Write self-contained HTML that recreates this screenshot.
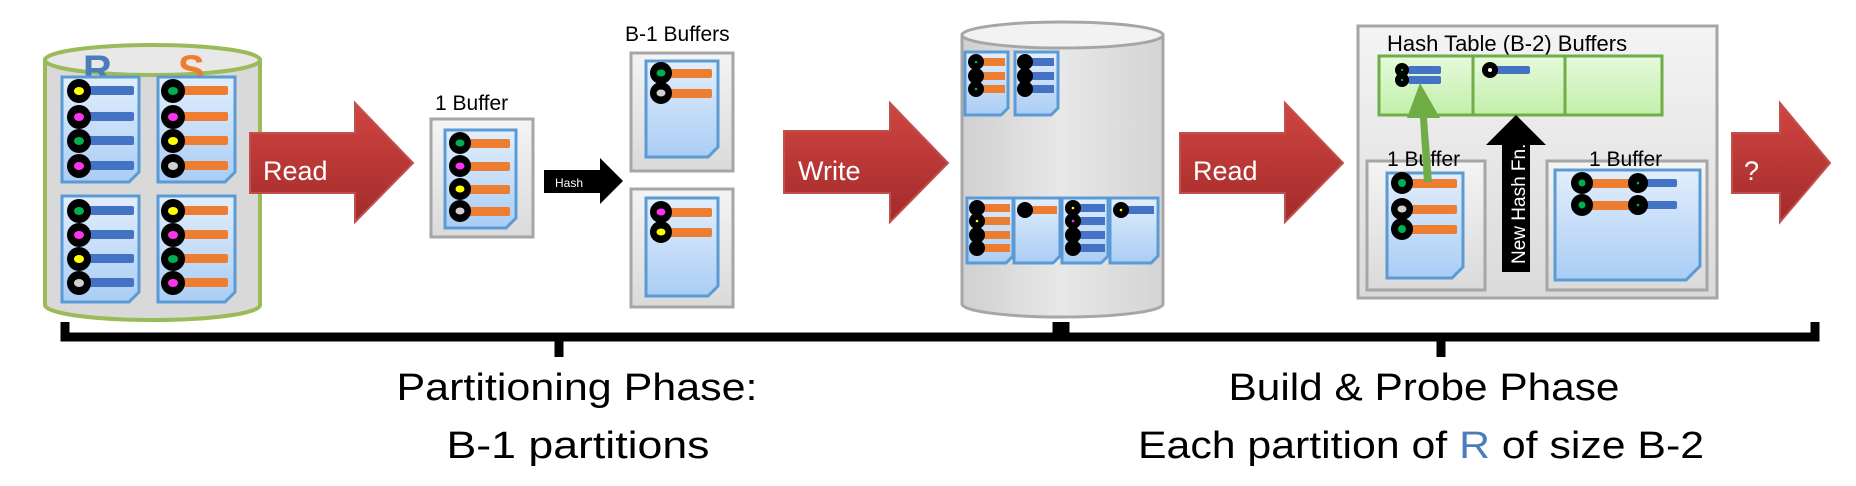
<!DOCTYPE html>
<html><head><meta charset="utf-8"><style>
html,body{margin:0;padding:0;background:#fff;width:1856px;height:486px;overflow:hidden}
svg{display:block}
text{font-family:"Liberation Sans",sans-serif}
</style></head><body>
<svg width="1856" height="486" viewBox="0 0 1856 486" xmlns="http://www.w3.org/2000/svg">
<defs>
<linearGradient id="doc" x1="0" y1="0" x2="0" y2="1"><stop offset="0" stop-color="#e2eefc"/><stop offset="1" stop-color="#aacdf5"/></linearGradient>
<linearGradient id="red" x1="0" y1="0" x2="0" y2="1"><stop offset="0" stop-color="#d04541"/><stop offset="1" stop-color="#a22b2b"/></linearGradient>
<linearGradient id="box" x1="0" y1="0" x2="0" y2="1"><stop offset="0" stop-color="#f4f4f4"/><stop offset="1" stop-color="#dadada"/></linearGradient>
<linearGradient id="grn" x1="0" y1="0" x2="0" y2="1"><stop offset="0" stop-color="#e6fadc"/><stop offset="1" stop-color="#c2efaa"/></linearGradient>
<linearGradient id="cyl" x1="0" y1="0" x2="1" y2="0"><stop offset="0" stop-color="#d0d0d0"/><stop offset=".5" stop-color="#e8e8e8"/><stop offset="1" stop-color="#d4d4d4"/></linearGradient>
</defs>

<!-- Left cylinder -->
<path d="M45,60 V305 A107.5,15 0 0 0 260,305 V60 Z" fill="#d9d9d9" stroke="#9bbb59" stroke-width="4"/>
<ellipse cx="152.5" cy="60" rx="107.5" ry="15" fill="#e8e8e8" stroke="#9bbb59" stroke-width="4"/>
<text x="83" y="83" font-size="40" font-weight="bold" fill="#4a7ebb">R</text>
<text x="178" y="83" font-size="40" font-weight="bold" fill="#ed7d31">S</text>

<g stroke="#5b9bd5" stroke-width="3" fill="url(#doc)">
<path d="M62,77 h77 v95 l-10,10 h-67 z"/>
<path d="M158,77 h77 v95 l-10,10 h-67 z"/>
<path d="M62,196 h77 v96 l-10,10 h-67 z"/>
<path d="M158,196 h77 v96 l-10,10 h-67 z"/>
</g>
<g>
<g fill="#4472c4"><rect x="85" y="86" width="49" height="9" rx="2"/><rect x="85" y="112" width="49" height="9" rx="2"/><rect x="85" y="136" width="49" height="9" rx="2"/><rect x="85" y="161" width="49" height="9" rx="2"/>
<rect x="85" y="206" width="49" height="9" rx="2"/><rect x="85" y="230" width="49" height="9" rx="2"/><rect x="85" y="254" width="49" height="9" rx="2"/><rect x="85" y="278" width="49" height="9" rx="2"/></g>
<g fill="#ed7d31"><rect x="180" y="86" width="48" height="9" rx="2"/><rect x="180" y="112" width="48" height="9" rx="2"/><rect x="180" y="136" width="48" height="9" rx="2"/><rect x="180" y="161" width="48" height="9" rx="2"/>
<rect x="180" y="206" width="48" height="9" rx="2"/><rect x="180" y="230" width="48" height="9" rx="2"/><rect x="180" y="254" width="48" height="9" rx="2"/><rect x="180" y="278" width="48" height="9" rx="2"/></g>
<g fill="#000"><circle cx="79" cy="91" r="12"/><circle cx="79" cy="117" r="12"/><circle cx="79" cy="141" r="12"/><circle cx="79" cy="166" r="12"/>
<circle cx="79" cy="211" r="12"/><circle cx="79" cy="235" r="12"/><circle cx="79" cy="259" r="12"/><circle cx="79" cy="283" r="12"/>
<circle cx="173" cy="91" r="12"/><circle cx="173" cy="117" r="12"/><circle cx="173" cy="141" r="12"/><circle cx="173" cy="166" r="12"/>
<circle cx="173" cy="211" r="12"/><circle cx="173" cy="235" r="12"/><circle cx="173" cy="259" r="12"/><circle cx="173" cy="283" r="12"/></g>
<ellipse cx="79" cy="91" rx="5" ry="4" fill="#ffff00"/><ellipse cx="79" cy="117" rx="5" ry="4" fill="#ff33ee"/><ellipse cx="79" cy="141" rx="5" ry="4" fill="#00b050"/><ellipse cx="79" cy="166" rx="5" ry="4" fill="#ff33ee"/>
<ellipse cx="79" cy="211" rx="5" ry="4" fill="#00b050"/><ellipse cx="79" cy="235" rx="5" ry="4" fill="#ff33ee"/><ellipse cx="79" cy="259" rx="5" ry="4" fill="#ffff00"/><ellipse cx="79" cy="283" rx="5" ry="4" fill="#d0d0d0"/>
<ellipse cx="173" cy="91" rx="5" ry="4" fill="#00b050"/><ellipse cx="173" cy="117" rx="5" ry="4" fill="#ff33ee"/><ellipse cx="173" cy="141" rx="5" ry="4" fill="#ffff00"/><ellipse cx="173" cy="166" rx="5" ry="4" fill="#d0d0d0"/>
<ellipse cx="173" cy="211" rx="5" ry="4" fill="#ffff00"/><ellipse cx="173" cy="235" rx="5" ry="4" fill="#ff33ee"/><ellipse cx="173" cy="259" rx="5" ry="4" fill="#00b050"/><ellipse cx="173" cy="283" rx="5" ry="4" fill="#ff33ee"/>
</g>

<!-- Read arrow 1 -->
<path d="M250,133 H355 V103 L413,163 L355,222 V193 H250 Z" fill="url(#red)" stroke="#c0504d" stroke-width="2"/>
<text x="263" y="180" font-size="27" fill="#fff">Read</text>

<!-- 1 Buffer -->
<text x="435" y="110" font-size="21" fill="#000">1 Buffer</text>
<rect x="431" y="119" width="102" height="118" fill="url(#box)" stroke="#a6a6a6" stroke-width="3"/>
<path d="M445,130 h71 v88 l-10,10 h-61 z" fill="url(#doc)" stroke="#5b9bd5" stroke-width="3"/>
<g fill="#ed7d31"><rect x="465" y="139" width="45" height="9" rx="2"/><rect x="465" y="162" width="45" height="9" rx="2"/><rect x="465" y="185" width="45" height="9" rx="2"/><rect x="465" y="207" width="45" height="9" rx="2"/></g>
<g fill="#000"><circle cx="460" cy="143" r="11"/><circle cx="460" cy="166" r="11"/><circle cx="460" cy="189" r="11"/><circle cx="460" cy="211" r="11"/></g>
<ellipse cx="460" cy="143" rx="4.5" ry="3.5" fill="#00b050"/><ellipse cx="460" cy="166" rx="4.5" ry="3.5" fill="#ff33ee"/><ellipse cx="460" cy="189" rx="4.5" ry="3.5" fill="#ffff00"/><ellipse cx="460" cy="211" rx="4.5" ry="3.5" fill="#d0d0d0"/>

<!-- Hash arrow -->
<path d="M544,170 H600 V158 L623,181 L600,204 V193 H544 Z" fill="#000"/>
<text x="555" y="187" font-size="12" fill="#fff">Hash</text>

<!-- B-1 Buffers -->
<text x="625" y="41" font-size="21" fill="#000">B-1 Buffers</text>
<rect x="631" y="53" width="102" height="118" fill="url(#box)" stroke="#a6a6a6" stroke-width="3"/>
<path d="M646,61 h72 v86 l-10,10 h-62 z" fill="url(#doc)" stroke="#5b9bd5" stroke-width="3"/>
<rect x="631" y="189" width="102" height="118" fill="url(#box)" stroke="#a6a6a6" stroke-width="3"/>
<path d="M646,198 h72 v88 l-10,10 h-62 z" fill="url(#doc)" stroke="#5b9bd5" stroke-width="3"/>
<g fill="#ed7d31"><rect x="668" y="69" width="44" height="9" rx="2"/><rect x="668" y="89" width="44" height="9" rx="2"/><rect x="668" y="208" width="44" height="9" rx="2"/><rect x="668" y="228" width="44" height="9" rx="2"/></g>
<g fill="#000"><circle cx="661" cy="73" r="11"/><circle cx="661" cy="93" r="11"/><circle cx="661" cy="212" r="11"/><circle cx="661" cy="232" r="11"/></g>
<ellipse cx="661" cy="73" rx="4.5" ry="3.5" fill="#00b050"/><ellipse cx="661" cy="93" rx="4.5" ry="3.5" fill="#d0d0d0"/><ellipse cx="661" cy="212" rx="4.5" ry="3.5" fill="#ff33ee"/><ellipse cx="661" cy="232" rx="4.5" ry="3.5" fill="#ffff00"/>

<!-- Write arrow -->
<path d="M784,131 H890 V103 L948,163 L890,222 V193 H784 Z" fill="url(#red)" stroke="#c0504d" stroke-width="2"/>
<text x="798" y="180" font-size="27" fill="#fff">Write</text>

<!-- Middle cylinder -->
<path d="M962,35 V304 A100.5,13 0 0 0 1163,304 V35 Z" fill="url(#cyl)" stroke="#a6a6a6" stroke-width="3"/>
<ellipse cx="1062.5" cy="35" rx="100.5" ry="13" fill="#f2f2f2" stroke="#a6a6a6" stroke-width="3"/>
<g stroke="#5b9bd5" stroke-width="3" fill="url(#doc)">
<path d="M965,52 h43 v56 l-7,7 h-36 z"/>
<path d="M1015,52 h43 v56 l-7,7 h-36 z"/>
<path d="M967,198 h46 v58 l-7,7 h-39 z"/>
<path d="M1014,198 h46 v58 l-7,7 h-39 z"/>
<path d="M1062,198 h46 v58 l-7,7 h-39 z"/>
<path d="M1110,198 h48 v58 l-7,7 h-41 z"/>
</g>
<g fill="#ed7d31"><rect x="980" y="58" width="25" height="8"/><rect x="980" y="72" width="25" height="8"/><rect x="980" y="85" width="25" height="8"/>
<rect x="981" y="204" width="29" height="8"/><rect x="981" y="217" width="29" height="8"/><rect x="981" y="231" width="29" height="8"/><rect x="981" y="244" width="29" height="8"/>
<rect x="1030" y="206" width="27" height="8"/></g>
<g fill="#4472c4"><rect x="1030" y="58" width="24" height="8"/><rect x="1030" y="72" width="24" height="8"/><rect x="1030" y="85" width="24" height="8"/>
<rect x="1078" y="204" width="27" height="8"/><rect x="1078" y="217" width="27" height="8"/><rect x="1078" y="231" width="27" height="8"/><rect x="1078" y="244" width="27" height="8"/>
<rect x="1126" y="206" width="28" height="8"/></g>
<g fill="#000"><circle cx="976" cy="62" r="8"/><circle cx="976" cy="76" r="8"/><circle cx="976" cy="89" r="8"/>
<circle cx="1025" cy="62" r="8"/><circle cx="1025" cy="76" r="8"/><circle cx="1025" cy="89" r="8"/>
<circle cx="977" cy="208" r="8"/><circle cx="977" cy="221" r="8"/><circle cx="977" cy="235" r="8"/><circle cx="977" cy="248" r="8"/>
<circle cx="1025" cy="210" r="8"/>
<circle cx="1073" cy="208" r="8"/><circle cx="1073" cy="221" r="8"/><circle cx="1073" cy="235" r="8"/><circle cx="1073" cy="248" r="8"/>
<circle cx="1121" cy="210" r="8"/></g>
<circle cx="976" cy="62" r="1.3" fill="#00b050"/><circle cx="976" cy="89" r="1.3" fill="#00b050"/><circle cx="977" cy="221" r="1.3" fill="#ffff00"/>
<circle cx="1073" cy="208" r="1.3" fill="#ffff00"/><circle cx="1073" cy="221" r="1.3" fill="#ff33ee"/><circle cx="1121" cy="210" r="1.3" fill="#ffff00"/>

<!-- Read arrow 2 -->
<path d="M1180,133 H1285 V103 L1343,163 L1285,222 V193 H1180 Z" fill="url(#red)" stroke="#c0504d" stroke-width="2"/>
<text x="1193" y="180" font-size="27" fill="#fff">Read</text>

<!-- Right big box -->
<rect x="1358" y="26" width="359" height="272" fill="url(#box)" stroke="#a6a6a6" stroke-width="3"/>
<text x="1387" y="51" font-size="22" fill="#000">Hash Table (B-2) Buffers</text>
<rect x="1379" y="56" width="283" height="59" fill="url(#grn)" stroke="#70ad47" stroke-width="3"/>
<line x1="1473" y1="56" x2="1473" y2="115" stroke="#70ad47" stroke-width="3"/>
<line x1="1565" y1="56" x2="1565" y2="115" stroke="#70ad47" stroke-width="3"/>
<g fill="#4472c4"><rect x="1408" y="66" width="33" height="8" rx="2"/><rect x="1408" y="76" width="33" height="8" rx="2"/><rect x="1496" y="66" width="34" height="8" rx="2"/></g>
<g fill="#000"><circle cx="1402" cy="70" r="7"/><circle cx="1402" cy="80" r="7"/><circle cx="1490" cy="70" r="8"/></g>
<circle cx="1402" cy="70" r="1.2" fill="#00b050"/><circle cx="1402" cy="80" r="1.2" fill="#00b050"/><circle cx="1490" cy="70" r="2" fill="#fff"/>

<!-- left small buffer -->
<rect x="1367" y="161" width="118" height="129" fill="url(#box)" stroke="#a6a6a6" stroke-width="3"/>
<text x="1387" y="166" font-size="21" fill="#000">1 Buffer</text>
<path d="M1387,173 h76 v94 l-11,11 h-65 z" fill="url(#doc)" stroke="#5b9bd5" stroke-width="3"/>
<g fill="#ed7d31"><rect x="1410" y="179" width="47" height="9" rx="2"/><rect x="1410" y="205" width="47" height="9" rx="2"/><rect x="1410" y="225" width="47" height="9" rx="2"/></g>
<g fill="#000"><circle cx="1402" cy="183" r="11"/><circle cx="1402" cy="209" r="11"/><circle cx="1402" cy="229" r="11"/></g>
<ellipse cx="1402" cy="183" rx="4" ry="4" fill="#00b050"/><ellipse cx="1402" cy="209" rx="4.5" ry="3.5" fill="#d0d0d0"/><ellipse cx="1402" cy="229" rx="4" ry="4" fill="#00b050"/>

<!-- green arrow -->
<path d="M1424,182 L1432,182 L1427,118 L1440,118 L1420,83 L1407,118 L1420,118 Z" fill="#70ad47"/>

<!-- black arrow new hash fn -->
<path d="M1502,272 V145 H1486 L1516,115 L1546,145 H1530 V272 Z" fill="#000"/>
<text transform="translate(1525,264) rotate(-90)" font-size="19" fill="#fff">New Hash Fn.</text>

<!-- right small buffer -->
<rect x="1547" y="161" width="160" height="129" fill="url(#box)" stroke="#a6a6a6" stroke-width="3"/>
<text x="1589" y="166" font-size="21" fill="#000">1 Buffer</text>
<path d="M1555,170 h145 v96 l-14,14 h-131 z" fill="url(#doc)" stroke="#5b9bd5" stroke-width="3"/>
<g fill="#4472c4"><rect x="1640" y="179" width="37" height="8" rx="2"/><rect x="1640" y="201" width="37" height="8" rx="2"/></g>
<g fill="#ed7d31"><rect x="1588" y="179" width="52" height="9" rx="2"/><rect x="1588" y="201" width="52" height="9" rx="2"/></g>
<g fill="#000"><circle cx="1582" cy="183" r="11"/><circle cx="1582" cy="205" r="11"/><circle cx="1638" cy="183" r="10"/><circle cx="1638" cy="205" r="10"/></g>
<circle cx="1582" cy="183" r="3.5" fill="#00b050"/><circle cx="1582" cy="205" r="3.5" fill="#00b050"/><circle cx="1638" cy="183" r="1.3" fill="#00b050"/><circle cx="1638" cy="205" r="1.3" fill="#00b050"/>

<!-- ? arrow -->
<path d="M1732,133 H1780 V103 L1830,163 L1780,222 V193 H1732 Z" fill="url(#red)" stroke="#c0504d" stroke-width="2"/>
<text x="1744" y="180" font-size="27" fill="#fff">?</text>

<!-- brackets -->
<path d="M65,322 V337 H1057 V322 M559,337 V357" fill="none" stroke="#000" stroke-width="9"/>
<path d="M1065,322 V337 H1815 V322 M1441,337 V357" fill="none" stroke="#000" stroke-width="9"/>

<text x="577" y="400" font-size="38" text-anchor="middle" textLength="361" lengthAdjust="spacingAndGlyphs">Partitioning Phase:</text>
<text x="578" y="458" font-size="38" text-anchor="middle" textLength="263" lengthAdjust="spacingAndGlyphs">B-1 partitions</text>
<text x="1424" y="400" font-size="38" text-anchor="middle" textLength="391" lengthAdjust="spacingAndGlyphs">Build &amp; Probe Phase</text>
<text x="1421" y="458" font-size="38" text-anchor="middle" textLength="566" lengthAdjust="spacingAndGlyphs">Each partition of <tspan fill="#4a7ebb">R</tspan> of size B-2</text>
</svg>
</body></html>
